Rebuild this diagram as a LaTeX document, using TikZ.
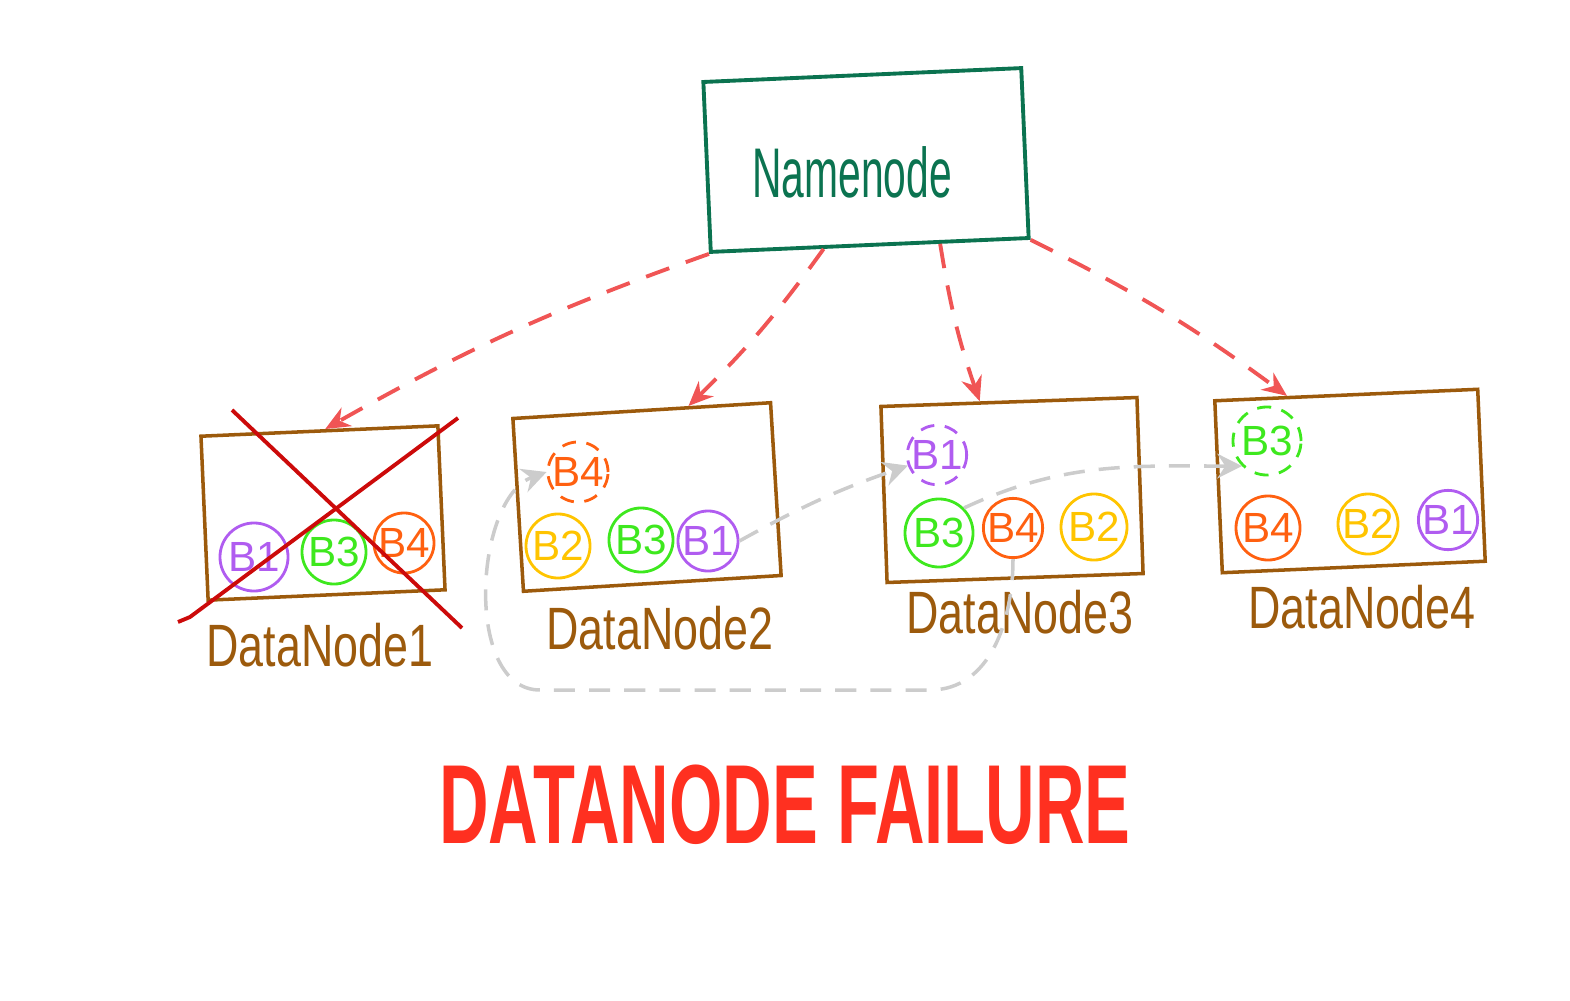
\documentclass[tikz,border=0pt]{standalone}
\usepackage{fontspec}
\setmainfont{Liberation Sans}
\usetikzlibrary{arrows.meta}
\definecolor{nngreen}{HTML}{0B7350}
\definecolor{dnbrown}{HTML}{9C5A0C}
\definecolor{bpurple}{HTML}{B05CF0}
\definecolor{bgreen}{HTML}{3EE81E}
\definecolor{borange}{HTML}{FF6010}
\definecolor{byellow}{HTML}{FFC400}
\definecolor{arrred}{HTML}{F05555}
\definecolor{xred}{HTML}{CC0A0A}
\definecolor{titlered}{HTML}{FF3020}
\definecolor{copygray}{HTML}{CCCCCC}
\begin{document}
\begin{tikzpicture}[x=0.01cm, y=-0.01cm,
    dnbox/.style={draw=dnbrown, line width=1pt},
    blk/.style={circle, draw=#1, text=#1, line width=0.8pt, minimum
      size=0.64cm, inner sep=0pt, font=\fontsize{12}{12}\selectfont},
    ghost/.style={blk=#1, dash pattern=on 4pt off 3pt},
    lbl/.style={text=dnbrown, font=\fontsize{17}{17}\selectfont}]
  \useasboundingbox (0,0) rectangle (1570,1000);

  \node [draw=nngreen, line width=1.1pt, rotate=2.5, minimum
    width=3.18cm, minimum height=1.7cm] (nn) at (866,160) {}; \node
  [text=nngreen, font=\fontsize{20}{20}\selectfont] (nnlbl) at
  (852,172) {\scalebox{0.58}[1]{Namenode}};

  \begin{scope}[every node/.style={dnbox}]
    \node [rotate=2.5, minimum width=2.37cm, minimum height=1.64cm]
    (dn1) at (323,513) {}; \node [rotate=3.5, minimum width=2.58cm,
    minimum height=1.73cm] (dn2) at (647,497) {}; \node
    [rotate=2, minimum width=2.56cm, minimum height=1.76cm] (dn3)
    at (1012,490) {}; \node [rotate=2.5, minimum width=2.63cm, minimum
    height=1.72cm] (dn4) at (1350,481) {};
  \end{scope}

  \node [lbl] (dn1lbl) at (320,645) {\scalebox{0.75}[1]{DataNode1}};
  \node [lbl] (dn2lbl) at (660,628) {\scalebox{0.75}[1]{DataNode2}};
  \node [lbl] (dn3lbl) at (1020,612) {\scalebox{0.75}[1]{DataNode3}};
  \node [lbl] (dn4lbl) at (1362,607) {\scalebox{0.75}[1]{DataNode4}};

  % blocks
  \node [blk=bpurple, minimum size=0.68cm] (d1b1) at (254,557) {B1};
  \node [blk=bgreen] (d1b3) at (334,552) {B3}; \node [blk=borange,
  minimum size=0.6cm] (d1b4) at (404,543) {B4};
  \node [ghost=borange, minimum size=0.6cm] (d2b4) at (578,472) {B4};
  \node [blk=byellow] (d2b2) at (558,546) {B2}; \node [blk=bgreen]
  (d2b3) at (641,540) {B3}; \node [blk=bpurple, minimum size=0.6cm]
  (d2b1) at (708,541) {B1};
  \node [ghost=bpurple, minimum size=0.56cm] (d3b1) at (937,455) {B1};
  \node [blk=bgreen, minimum size=0.68cm] (d3b3) at (939,533) {B3};
  \node [blk=borange, minimum size=0.58cm] (d3b4) at (1013,528) {B4};
  \node [blk=byellow, minimum size=0.66cm] (d3b2) at (1094,527) {B2};
  \node [ghost=bgreen, minimum size=0.68cm] (d4b3) at (1267,441) {B3};
  \node [blk=borange] (d4b4) at (1268,528) {B4}; \node [blk=byellow,
  minimum size=0.6cm] (d4b2) at (1368,524) {B2}; \node
  [blk=bpurple, minimum size=0.56cm] (d4b1) at (1448,520) {B1};

  % failed node
  \draw [xred, line width=1.1pt] (232,410) -- (462,628); \draw [xred,
  line width=1.1pt] (458,418) -- (190,617) -- (178,622);

  \begin{scope}[->, >={Stealth[length=7pt, width=6pt]}, arrred,
    line width=1.1pt, dash pattern=on 7pt off 5pt]
    \draw (nn.south west) to [bend right=5] (dn1.86); \draw (nn.242)
    to [bend left=5] (dn2.62); \draw (nn.309) to [bend right=5]
    (dn3.108); \draw (nn.south east) to [bend left=5] (dn4.124);
  \end{scope}

  \begin{scope}[->, >={Stealth[length=7pt, width=7pt]}, copygray,
    line width=1pt, dash pattern=on 6pt off 4pt]
    \coordinate (retr) at (930,690); \coordinate (retl) at (540,690);
    \draw (d3b4.south) to [out=-90, in=0] (retr) -- (retl) to
    [out=180, in=200, looseness=0.9] (d2b4.west);
    \draw (d2b1.east) to [bend left=5] (d3b1.200); \draw (d3b3.45)
    to [out=25, in=180] (d4b3.225);
  \end{scope}

  \node [text=titlered, font=\fontsize{32}{32}\selectfont\bfseries]
  (title) at (785,805) {\scalebox{0.61}[1]{DATANODE FAILURE}};
\end{tikzpicture}
\end{document}
